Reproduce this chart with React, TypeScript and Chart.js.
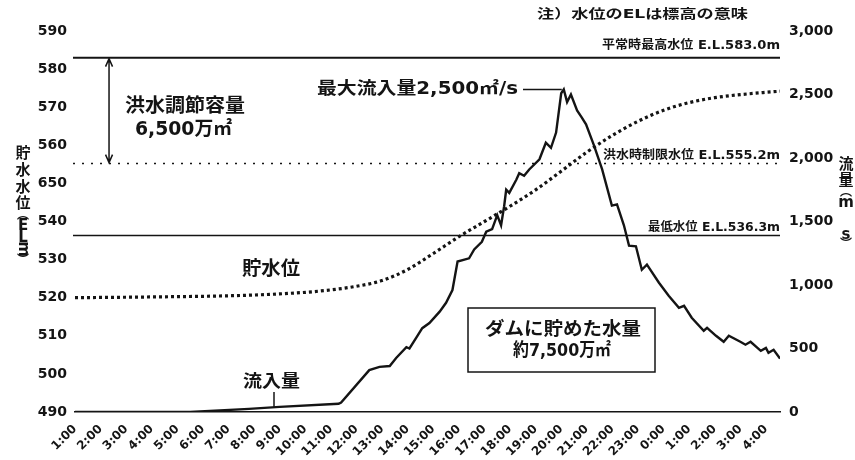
import React, { useEffect, useRef } from 'react';
import { Chart, registerables } from 'chart.js';

Chart.register(...registerables);

// ---- data ----
const timeLabels = ['1:00','2:00','3:00','4:00','5:00','6:00','7:00','8:00','9:00','10:00','11:00','12:00','13:00','14:00','15:00','16:00','17:00','18:00','19:00','20:00','21:00','22:00','23:00','0:00','1:00','2:00','3:00','4:00'];

// hours after 1:00
const flowHours = [0,4.5,6.8,8.0,10.3,10.4,11.5,11.9,12.3,12.55,12.95,13.07,13.35,13.57,13.85,14.25,14.5,14.75,14.95,15.4,15.6,15.9,16.07,16.3,16.5,16.65,16.77,16.85,16.97,17.25,17.36,17.55,17.75,18.15,18.4,18.6,18.8,19.0,19.1,19.23,19.38,19.62,19.8,19.97,20.28,20.6,20.98,21.18,21.45,21.65,21.92,22.15,22.35,22.82,23.2,23.6,23.8,24.1,24.57,24.7,25.05,25.35,25.55,26.0,26.2,26.4,26.8,27.0,27.1,27.3,27.55];
const flowValues = [0,0,25,40,65,75,330,355,362,425,510,500,590,660,700,790,860,960,1185,1210,1280,1340,1420,1440,1550,1470,1620,1750,1725,1830,1880,1860,1910,1990,2120,2080,2200,2510,2540,2440,2500,2375,2320,2265,2100,1910,1625,1635,1470,1310,1305,1120,1160,1018,915,820,836,742,640,663,600,553,600,553,530,553,482,505,466,490,420];

const levelHours = [0,3,6,8,9.5,11,12,13,14,15,16,17,18,19,20,21,22,23,24,25,26,27,27.55];
const levelValues = [520.0,520.2,520.5,521.0,521.7,523.0,524.5,527.4,531.6,536.0,540.0,544.0,548.3,553.2,558.2,562.6,566.3,569.2,571.2,572.5,573.3,573.9,574.2];

const levelTickLabels = ['490','500','510','520','530','540','650','560','570','580','590'];
const refLevels = [583.0, 555.2, 536.3];
const refLabels = ['平常時最高水位 E.L.583.0m', '洪水時制限水位 E.L.555.2m', '最低水位 E.L.536.3m'];

const noteText = '注）水位のELは標高の意味';
const leftTitleChars = ['貯','水','水','位','︵','E','L','m','︶'];
const rightTitleChars = ['流','量','︵','m','s','︶'];
const capacityLines = ['洪水調節容量', '6,500万㎡'];
const peakText = '最大流入量2,500㎡/s';
const storedLines = ['ダムに貯めた水量', '約7,500万㎡'];
const levelName = '貯水位';
const flowName = '流入量';

const JP = '"DejaVu Sans", "Noto Sans CJK JP", sans-serif';
const INK = '#141414';

function fitText(ctx: CanvasRenderingContext2D, text: string, left: number, right: number, cy: number, font: string) {
  ctx.save();
  ctx.font = font;
  ctx.textAlign = 'left';
  ctx.textBaseline = 'middle';
  const w = ctx.measureText(text).width;
  const sx = (right - left) / w;
  ctx.translate(left, cy);
  ctx.scale(sx, 1);
  ctx.fillText(text, 0, 0);
  ctx.restore();
}

function interp(xs: number[], ys: number[], x: number) {
  for (let i = 1; i < xs.length; i++) {
    if (x <= xs[i]) {
      const t = (x - xs[i - 1]) / (xs[i] - xs[i - 1]);
      return ys[i - 1] + t * (ys[i] - ys[i - 1]);
    }
  }
  return ys[ys.length - 1];
}

const annotPlugin = {
  id: 'annot',
  beforeDatasetsDraw(chart: any) {
    const { ctx, chartArea: a, scales } = chart;
    const ys = scales.y;
    ctx.save();
    ctx.strokeStyle = INK;
    refLevels.forEach((v, i) => {
      const py = ys.getPixelForValue(v);
      ctx.lineWidth = i === 0 ? 2 : 1.5;
      ctx.setLineDash(i === 1 ? [2, 7] : []);
      ctx.beginPath();
      ctx.moveTo(a.left - 2, py);
      ctx.lineTo(a.right, py);
      ctx.stroke();
    });
    ctx.restore();
  },
  afterDraw(chart: any) {
    const { ctx, chartArea: a, scales } = chart;
    const xs = scales.x, ys = scales.y, y1 = scales.y1;
    ctx.save();
    ctx.fillStyle = INK;
    ctx.strokeStyle = INK;

    // note
    fitText(ctx, noteText, 537, 748, 15, `bold 13px ${JP}`);

    // reference labels
    const r0 = ys.getPixelForValue(refLevels[0]);
    const r1 = ys.getPixelForValue(refLevels[1]);
    const r2 = ys.getPixelForValue(refLevels[2]);
    fitText(ctx, refLabels[0], 602, a.right, r0 - 12, `bold 12px ${JP}`);
    fitText(ctx, refLabels[1], 603, a.right, r1 - 8, `bold 12px ${JP}`);
    fitText(ctx, refLabels[2], 648, a.right, r2 - 8, `bold 12px ${JP}`);

    // capacity arrow
    const ax = xs.getPixelForValue(1.33);
    ctx.lineWidth = 1.5;
    ctx.beginPath();
    ctx.moveTo(ax, r0 + 1);
    ctx.lineTo(ax, r1 - 1);
    ctx.moveTo(ax - 3.5, r0 + 9);
    ctx.lineTo(ax, r0 + 1);
    ctx.lineTo(ax + 3.5, r0 + 9);
    ctx.moveTo(ax - 3.5, r1 - 9);
    ctx.lineTo(ax, r1 - 1);
    ctx.lineTo(ax + 3.5, r1 - 9);
    ctx.stroke();

    fitText(ctx, capacityLines[0], 125, 245, 107, `bold 19px ${JP}`);
    fitText(ctx, capacityLines[1], 135, 232, 130, `bold 19px ${JP}`);

    // peak label
    let pi = 0;
    flowValues.forEach((v, i) => { if (v > flowValues[pi]) pi = i; });
    const px = xs.getPixelForValue(flowHours[pi]);
    const py = y1.getPixelForValue(flowValues[pi]);
    fitText(ctx, peakText, 317, 518, py, `bold 17px ${JP}`);
    ctx.lineWidth = 1.5;
    ctx.beginPath();
    ctx.moveTo(523, py);
    ctx.lineTo(px - 2, py);
    ctx.stroke();

    // series names
    fitText(ctx, levelName, 242, 300, 270, `bold 19px ${JP}`);
    fitText(ctx, flowName, 243, 300, 383, `bold 17px ${JP}`);
    const tx = 274;
    const th = xs.getValueForPixel(tx);
    const tyEnd = y1.getPixelForValue(interp(flowHours, flowValues, th));
    ctx.lineWidth = 1.5;
    ctx.beginPath();
    ctx.moveTo(tx, 392);
    ctx.lineTo(tx, tyEnd);
    ctx.stroke();

    // stored volume box
    ctx.lineWidth = 1.5;
    ctx.strokeRect(468, 308, 187, 64);
    fitText(ctx, storedLines[0], 485, 641, 330, `bold 18px ${JP}`);
    fitText(ctx, storedLines[1], 513, 611, 351, `bold 18px ${JP}`);

    // left vertical title
    ctx.textAlign = 'center';
    ctx.textBaseline = 'middle';
    const leftY = [154, 171, 188, 204, 216, 226, 238, 249, 261];
    leftTitleChars.forEach((c, i) => {
      ctx.font = c === '︵' || c === '︶' ? `bold 12px ${JP}` : `bold 15px ${JP}`;
      if (c === 'm') {
        ctx.save();
        ctx.translate(23, leftY[i]);
        ctx.rotate(Math.PI / 2);
        ctx.fillText(c, 0, 0);
        ctx.restore();
      } else {
        ctx.fillText(c, 23, leftY[i]);
      }
    });
    const rightY = [165, 181, 193, 203, 235, 245];
    rightTitleChars.forEach((c, i) => {
      ctx.font = c === '︵' || c === '︶' ? `bold 12px ${JP}` : `bold 15px ${JP}`;
      ctx.fillText(c, 846, rightY[i]);
    });
    ctx.restore();
  },
};

export default function App() {
  const ref = useRef<HTMLCanvasElement | null>(null);
  useEffect(() => {
    if (!ref.current) return;
    const chart = new Chart(ref.current, {
      type: 'line',
      data: {
        datasets: [
          {
            label: flowName,
            data: flowHours.map((h, i) => ({ x: h, y: flowValues[i] })),
            yAxisID: 'y1',
            borderColor: INK,
            borderWidth: 2.4,
            pointRadius: 0,
            tension: 0,
            fill: false,
          },
          {
            label: levelName,
            data: levelHours.map((h, i) => ({ x: h, y: levelValues[i] })),
            yAxisID: 'y',
            borderColor: INK,
            borderWidth: 3.2,
            borderDash: [3, 3],
            pointRadius: 0,
            cubicInterpolationMode: 'monotone',
            fill: false,
          },
        ],
      } as any,
      options: {
        responsive: false,
        animation: false,
        layout: { padding: { top: 31, left: 0, right: 0, bottom: 0 } },
        plugins: { legend: { display: false }, tooltip: { enabled: false } },
        scales: {
          x: {
            type: 'linear',
            min: 0,
            max: 27.55,
            grid: { display: false },
            border: { display: true, color: INK, width: 1.5 },
            ticks: {
              stepSize: 1,
              includeBounds: false,
              autoSkip: false,
              minRotation: 45,
              maxRotation: 45,
              padding: 2,
              color: INK,
              font: { family: 'DejaVu Sans', size: 12, weight: 'bold' },
              callback: (v: any) => (Number.isInteger(v) ? timeLabels[v] ?? '' : ''),
            },
            afterFit: (s: any) => { s.height = 48; },
          },
          y: {
            position: 'left',
            min: 490,
            max: 590,
            grid: { display: false },
            border: { display: false },
            ticks: {
              stepSize: 10,
              padding: 0,
              color: INK,
              font: { family: 'DejaVu Sans', size: 14, weight: 'bold' },
              callback: (v: any) => levelTickLabels[Math.round((v - 490) / 10)] ?? '',
            },
            afterFit: (s: any) => { s.width = 75; },
          },
          y1: {
            position: 'right',
            min: 0,
            max: 3000,
            grid: { display: false },
            border: { display: false },
            ticks: {
              stepSize: 500,
              padding: 1,
              color: INK,
              font: { family: 'DejaVu Sans', size: 14, weight: 'bold' },
              callback: (v: any) => Number(v).toLocaleString('en-US'),
            },
            afterFit: (s: any) => { s.width = 75; },
          },
        },
      } as any,
      plugins: [annotPlugin],
    });
    return () => chart.destroy();
  }, []);
  return (
    <div style={{ position: 'fixed', left: 0, top: 0, width: 855, height: 460, background: '#fff' }}>
      <canvas ref={ref} width={855} height={460} style={{ display: 'block' }} />
    </div>
  );
}
